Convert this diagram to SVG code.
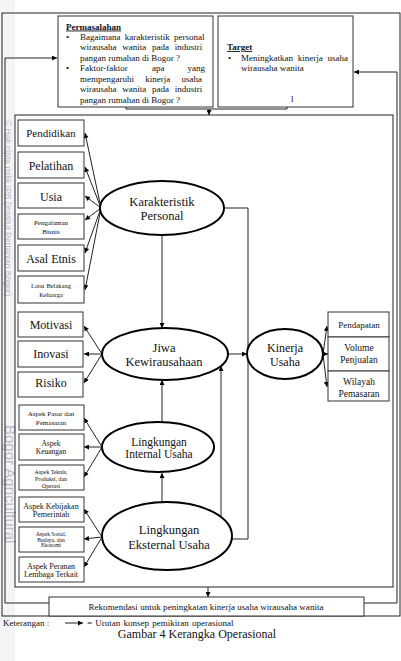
<svg xmlns="http://www.w3.org/2000/svg" width="401" height="661" viewBox="0 0 401 661">
<style>
text{font-family:"Liberation Serif","Times New Roman",serif;fill:#111}
.box{fill:#fff;stroke:#333;stroke-width:1}
.ell{fill:#fff;stroke:#000;stroke-width:2}
.ln{fill:none;stroke:#222;stroke-width:1}
.c{text-anchor:middle}
.e{text-anchor:end}
.wm{font-family:"Liberation Sans",Arial,sans-serif;fill:#b9bccb}
</style>
<defs>
<marker id="ah" viewBox="0 0 10 10" refX="10" refY="5" markerWidth="6" markerHeight="5" orient="auto" markerUnits="userSpaceOnUse"><path d="M0,0 L10,5 L0,10 z" fill="#000"/></marker>
</defs>
<rect width="401" height="661" fill="#fff"/>
<rect x="0" y="0" width="15" height="661" fill="#f4f4f7"/>
<g id="watermark">
<text class="wm" transform="translate(5,120) rotate(90)" font-size="8.5">© Hak cipta milik IPB (Institut Pertanian Bogor)</text>
<text class="wm" transform="translate(5,425) rotate(90)" font-size="15">Bogor Agricultural</text>
</g>
<g id="frames">
<rect x="2" y="13" width="398" height="603" class="ln"/>
<rect x="15" y="115" width="378" height="472" class="ln"/>
</g>
<g id="connectors" class="ln">
<polyline points="49,603 5,603 5,58 57,58" marker-end="url(#ah)"/>
<polyline points="364,603 397,603 397,72 354,72" marker-end="url(#ah)"/>
<polyline points="126,107 126,109 287,109 287,107"/>
<line x1="209" y1="109" x2="209" y2="115" marker-end="url(#ah)"/>
<line x1="208" y1="587" x2="208" y2="597" marker-end="url(#ah)"/>
<line x1="101" y1="208" x2="85" y2="133" marker-end="url(#ah)"/>
<line x1="101" y1="208" x2="85" y2="167" marker-end="url(#ah)"/>
<line x1="101" y1="208" x2="85" y2="196" marker-end="url(#ah)"/>
<line x1="101" y1="208" x2="85" y2="220" marker-end="url(#ah)"/>
<line x1="101" y1="208" x2="85" y2="253" marker-end="url(#ah)"/>
<line x1="101" y1="208" x2="85" y2="290" marker-end="url(#ah)"/>
<line x1="162" y1="235" x2="162" y2="328" marker-end="url(#ah)"/>
<line x1="102" y1="354" x2="84" y2="326" marker-end="url(#ah)"/>
<line x1="102" y1="354" x2="84" y2="354" marker-end="url(#ah)"/>
<line x1="102" y1="354" x2="84" y2="383" marker-end="url(#ah)"/>
<line x1="228" y1="354" x2="247" y2="354" marker-end="url(#ah)"/>
<polyline points="224,208 248,208 248,539 232,539"/>
<line x1="221" y1="516" x2="221" y2="366" marker-end="url(#ah)"/>
<line x1="162" y1="422" x2="162" y2="380" marker-end="url(#ah)"/>
<line x1="162" y1="502" x2="162" y2="473" marker-end="url(#ah)"/>
<line x1="102" y1="447" x2="84" y2="418" marker-end="url(#ah)"/>
<line x1="102" y1="447" x2="84" y2="447" marker-end="url(#ah)"/>
<line x1="102" y1="447" x2="84" y2="477" marker-end="url(#ah)"/>
<line x1="102" y1="537" x2="84" y2="509" marker-end="url(#ah)"/>
<line x1="102" y1="537" x2="84" y2="539" marker-end="url(#ah)"/>
<line x1="102" y1="537" x2="84" y2="567" marker-end="url(#ah)"/>
<line x1="323" y1="354" x2="327" y2="326" marker-end="url(#ah)"/>
<line x1="323" y1="354" x2="328" y2="354" marker-end="url(#ah)"/>
<line x1="323" y1="354" x2="327" y2="387" marker-end="url(#ah)"/>
<line x1="65" y1="623" x2="83" y2="623" marker-end="url(#ah)"/>
</g>
<g id="permasalahan">
<rect x="58" y="16" width="155" height="91" class="box"/>
<text x="66" y="29.5" font-size="9" font-weight="bold" text-decoration="underline">Permasalahan</text>
<text x="66" y="39.5" font-size="9">•</text>
<text x="80" y="39.5" font-size="9" word-spacing="2">Bagaimana karakteristik personal</text>
<text x="80" y="50" font-size="9" word-spacing="3.5">wirausaha wanita pada industri</text>
<text x="80" y="60.5" font-size="9">pangan rumahan di Bogor ?</text>
<text x="66" y="71" font-size="9">•</text>
<text x="80" y="71" font-size="9">Faktor-faktor</text>
<text x="152" y="71" font-size="9">apa</text>
<text x="205" y="71" font-size="9" class="e">yang</text>
<text x="80" y="81.5" font-size="9" word-spacing="9">mempengaruhi kinerja usaha</text>
<text x="80" y="92" font-size="9" word-spacing="3.5">wirausaha wanita pada industri</text>
<text x="80" y="102.5" font-size="9">pangan rumahan di Bogor ?</text>
</g>
<g id="target">
<rect x="218" y="16" width="135" height="91" class="box"/>
<text x="227" y="50" font-size="9" font-weight="bold" text-decoration="underline">Target</text>
<text x="228" y="60.5" font-size="9">•</text>
<text x="241" y="60.5" font-size="9" word-spacing="2.5">Meningkatkan kinerja usaha</text>
<text x="241" y="71" font-size="9">wirausaha wanita</text>
<text x="291" y="102" font-size="9">l</text>
</g>
<g id="pendidikan"><rect x="18" y="120" width="66" height="26" class="box"/><text x="51" y="137" class="c" font-size="11">Pendidikan</text></g>
<g id="pelatihan"><rect x="18" y="152" width="66" height="26" class="box"/><text x="51" y="170" class="c" font-size="12">Pelatihan</text></g>
<g id="usia"><rect x="18" y="183" width="66" height="25" class="box"/><text x="51" y="201" class="c" font-size="12">Usia</text></g>
<g id="pengalaman"><rect x="18" y="214" width="66" height="25" class="box"/><text x="51" y="224.5" class="c" font-size="7">Pengalaman</text><text x="51" y="234" class="c" font-size="7">Bisnis</text></g>
<g id="asal-etnis"><rect x="18" y="245" width="66" height="26" class="box"/><text x="51" y="262.5" class="c" font-size="12">Asal Etnis</text></g>
<g id="latar"><rect x="18" y="276" width="66" height="27" class="box"/><text x="51" y="288" class="c" font-size="6.5">Latar Belakang</text><text x="51" y="297" class="c" font-size="6.5">Keluarga</text></g>
<g id="motivasi"><rect x="18" y="312" width="65" height="25" class="box"/><text x="51" y="329" class="c" font-size="12">Motivasi</text></g>
<g id="inovasi"><rect x="18" y="341" width="65" height="26" class="box"/><text x="51" y="358" class="c" font-size="12">Inovasi</text></g>
<g id="risiko"><rect x="18" y="372" width="65" height="25" class="box"/><text x="51" y="387" class="c" font-size="12">Risiko</text></g>
<g id="aspek-pasar"><rect x="19" y="405" width="65" height="25" class="box"/><text x="51" y="416" class="c" font-size="7">Aspek Pasar dan</text><text x="51" y="424.5" class="c" font-size="7">Pemasaran</text></g>
<g id="aspek-keuangan"><rect x="19" y="434" width="65" height="26" class="box"/><text x="51" y="445.5" class="c" font-size="7.5">Aspek</text><text x="51" y="454" class="c" font-size="7.5">Keuangan</text></g>
<g id="aspek-teknis"><rect x="19" y="465" width="65" height="25" class="box"/><text x="51" y="474" class="c" font-size="5.8">Aspek Teknis,</text><text x="51" y="480.5" class="c" font-size="5.8">Produksi, dan</text><text x="51" y="488" class="c" font-size="5.8">Operasi</text></g>
<g id="aspek-kebijakan"><rect x="19" y="497" width="65" height="25" class="box"/><text x="51" y="508.5" class="c" font-size="8">Aspek Kebijakan</text><text x="51" y="517" class="c" font-size="8">Pemerintah</text></g>
<g id="aspek-sosial"><rect x="19" y="527" width="65" height="25" class="box"/><text x="51" y="536" class="c" font-size="5.5">Aspek Sosial,</text><text x="51" y="541.5" class="c" font-size="5.5">Budaya, dan</text><text x="51" y="547" class="c" font-size="5.5">Ekonomi</text></g>
<g id="aspek-peranan"><rect x="19" y="557" width="65" height="25" class="box"/><text x="51" y="568.5" class="c" font-size="8">Aspek Peranan</text><text x="51" y="576.5" class="c" font-size="8">Lembaga Terkait</text></g>
<g id="karakteristik"><ellipse cx="162" cy="208" rx="62" ry="27" class="ell"/><text x="162" y="206" class="c" font-size="12.5">Karakteristik</text><text x="162" y="220" class="c" font-size="12.5">Personal</text></g>
<g id="jiwa"><ellipse cx="165" cy="354" rx="63" ry="26" class="ell"/><text x="164" y="352" class="c" font-size="12.5">Jiwa</text><text x="164" y="366" class="c" font-size="12.5">Kewirausahaan</text></g>
<g id="internal"><ellipse cx="158" cy="447" rx="56" ry="25" class="ell"/><text x="159" y="446" class="c" font-size="11.5">Lingkungan</text><text x="159" y="458" class="c" font-size="11.5">Internal Usaha</text></g>
<g id="eksternal"><ellipse cx="167" cy="536" rx="65" ry="34" class="ell"/><text x="169" y="534" class="c" font-size="12.5">Lingkungan</text><text x="169" y="549" class="c" font-size="12.5">Eksternal Usaha</text></g>
<g id="kinerja"><ellipse cx="285" cy="354" rx="38" ry="25" class="ell"/><text x="285" y="352" class="c" font-size="12">Kinerja</text><text x="285" y="366" class="c" font-size="12">Usaha</text></g>
<g id="pendapatan"><rect x="328" y="312" width="61" height="25" class="box"/><text x="359" y="328" class="c" font-size="9">Pendapatan</text></g>
<g id="volume"><rect x="328" y="337" width="61" height="34" class="box"/><text x="359" y="351" class="c" font-size="9.5">Volume</text><text x="359" y="363" class="c" font-size="9.5">Penjualan</text></g>
<g id="wilayah"><rect x="328" y="371" width="61" height="30" class="box"/><text x="359" y="385" class="c" font-size="9.5">Wilayah</text><text x="359" y="396.5" class="c" font-size="9.5">Pemasaran</text></g>
<g id="rekomendasi"><rect x="49" y="597" width="315" height="19" class="box"/><text x="206" y="609.5" class="c" font-size="9" textLength="235" lengthAdjust="spacing">Rekomendasi untuk peningkatan kinerja usaha wirausaha wanita</text></g>
<g id="legend">
<text x="3" y="626" font-size="9">Keterangan :</text>
<text x="87" y="626" font-size="9" word-spacing="1">= Urutan konsep pemikiran operasional</text>
<text x="197" y="637.5" class="c" font-size="12">Gambar 4 Kerangka Operasional</text>
</g>
</svg>
